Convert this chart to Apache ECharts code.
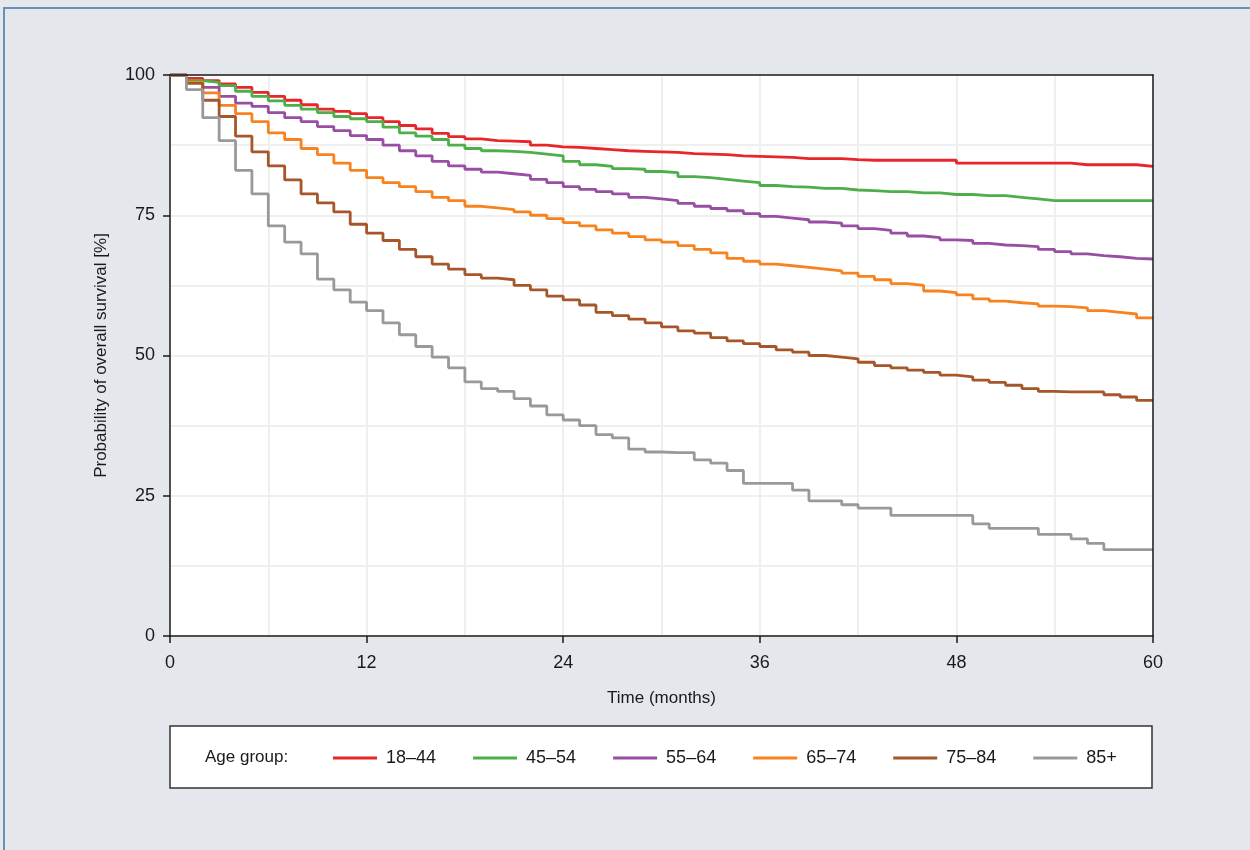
<!DOCTYPE html>
<html>
<head>
<meta charset="utf-8">
<title>Overall survival by age group</title>
<script src="https://cdn.jsdelivr.net/npm/echarts@6.0.0/dist/echarts.min.js"></script>
<style>
    html, body { margin: 0; padding: 0; background: #e4e7ec; }
    #main { width: 1250px; height: 850px; }
</style>
</head>
<body>
<div id="main"></div>
<script>
// 时间轴（月）
var months = [0, 1, 2, 3, 4, 5, 6, 7, 8, 9, 10, 11, 12, 13, 14, 15, 16, 17, 18, 19, 20,
    21, 22, 23, 24, 25, 26, 27, 28, 29, 30, 31, 32, 33, 34, 35, 36, 37, 38, 39, 40,
    41, 42, 43, 44, 45, 46, 47, 48, 49, 50, 51, 52, 53, 54, 55, 56, 57, 58, 59, 60];

var xTicks = [0, 12, 24, 36, 48, 60];
var yTicks = [0, 25, 50, 75, 100];

var groupNames = ['18\u201344', '45\u201354', '55\u201364', '65\u201374', '75\u201384', '85+'];
var groupColors = ['#e8262a', '#4daf4a', '#984ea3', '#f7821e', '#a65628', '#999999'];

// 各年龄组生存率 (%)
var age18 = [100, 99.4, 99.0, 98.4, 97.8, 96.9, 96.2, 95.5, 94.7, 93.9, 93.5, 93.1, 92.4, 91.7, 91.0, 90.4, 89.6, 89.0, 88.6, 88.3, 88.2,
    88.1, 87.5, 87.2, 87.1, 86.9, 86.7, 86.5, 86.4, 86.3, 86.2, 86.0, 85.9, 85.8, 85.6, 85.5, 85.4, 85.3, 85.1, 85.1, 85.1,
    84.9, 84.8, 84.8, 84.8, 84.8, 84.8, 84.8, 84.3, 84.3, 84.3, 84.3, 84.3, 84.3, 84.3, 84.0, 84.0, 84.0, 84.0, 83.7, 83.7];
var age45 = [100, 99.0, 98.7, 98.1, 97.1, 96.2, 95.4, 94.6, 93.9, 93.3, 92.6, 92.2, 91.7, 90.7, 89.7, 89.1, 88.5, 87.5, 86.9, 86.5, 86.4,
    86.2, 85.9, 85.6, 84.6, 84.0, 83.7, 83.3, 83.2, 82.8, 82.6, 81.9, 81.7, 81.4, 81.1, 80.8, 80.3, 80.1, 80.0, 79.8, 79.8,
    79.5, 79.4, 79.2, 79.2, 79.0, 79.0, 78.7, 78.7, 78.5, 78.5, 78.2, 77.9, 77.6, 77.6, 77.6, 77.6, 77.6, 77.6, 77.6, 77.6];
var age55 = [100, 98.7, 97.8, 96.2, 95.0, 94.4, 93.3, 92.4, 91.7, 90.8, 90.1, 89.2, 88.5, 87.5, 86.5, 85.6, 84.6, 83.8, 83.2, 82.7, 82.4,
    82.1, 81.4, 80.8, 80.1, 79.6, 79.2, 78.8, 78.2, 77.9, 77.6, 77.1, 76.6, 76.2, 75.8, 75.3, 74.8, 74.5, 74.2, 73.8, 73.6,
    73.1, 72.6, 72.3, 71.8, 71.3, 71.0, 70.6, 70.5, 70.0, 69.7, 69.6, 69.4, 68.9, 68.5, 68.1, 67.8, 67.6, 67.3, 67.2, 67.2];
var age65 = [100, 98.7, 96.8, 94.6, 93.1, 91.7, 89.7, 88.5, 86.9, 85.8, 84.3, 83.0, 81.7, 80.8, 80.1, 79.2, 78.2, 77.6, 76.6, 76.3, 76.0,
    75.6, 75.0, 74.4, 73.7, 73.1, 72.4, 71.8, 71.2, 70.6, 70.2, 69.6, 68.9, 68.3, 67.3, 66.8, 66.3, 66.0, 65.7, 65.4, 65.1,
    64.7, 64.1, 63.5, 62.8, 62.5, 61.5, 61.2, 60.8, 60.1, 59.7, 59.4, 59.2, 58.8, 58.7, 58.5, 58.0, 57.7, 57.4, 56.7, 56.7];
var age75 = [100, 98.5, 95.5, 92.6, 89.1, 86.3, 83.8, 81.3, 78.8, 77.2, 75.6, 73.4, 71.8, 70.5, 68.9, 67.6, 66.3, 65.4, 64.4, 63.8, 63.5,
    62.5, 61.7, 60.6, 59.9, 59.0, 57.7, 57.1, 56.5, 55.8, 55.1, 54.4, 54.0, 53.2, 52.6, 52.1, 51.6, 51.0, 50.6, 50.0, 49.7,
    49.4, 48.8, 48.2, 47.8, 47.4, 47.0, 46.5, 46.2, 45.6, 45.2, 44.7, 44.1, 43.6, 43.5, 43.5, 43.5, 43.0, 42.6, 42.0, 42.0];
var age85 = [100, 97.4, 92.4, 88.3, 83.0, 78.8, 73.1, 70.2, 68.1, 63.6, 61.7, 59.5, 58.0, 55.8, 53.7, 51.6, 49.7, 47.8, 45.3, 44.1, 43.6,
    42.3, 41.0, 39.4, 38.5, 37.5, 35.9, 35.3, 33.3, 32.8, 32.7, 32.7, 31.4, 30.8, 29.5, 27.2, 27.2, 27.2, 26.0, 24.1, 24.1,
    23.4, 22.8, 22.8, 21.5, 21.5, 21.5, 21.5, 21.5, 20.0, 19.2, 19.2, 19.2, 18.1, 18.1, 17.3, 16.5, 15.4, 15.4, 15.4, 15.4];

var groupValues = [age18, age45, age55, age65, age75, age85];

var fontFamily = 'Liberation Sans, Arial, sans-serif';
var textColor = '#1a1a1a';
var axisColor = '#1a1a1a';
var gridLine = { show: true, lineStyle: { color: '#efefef', width: 2 } };

/*1.准备容器*/
var chart = echarts.init(document.getElementById('main'));

/*2.系列*/
var series = groupNames.map(function (name, i) {
    return {
        name: name,
        type: 'line',
        step: 'end',
        symbol: 'none',
        color: groupColors[i],
        lineStyle: { width: 2.8, color: groupColors[i] },
        data: months.map(function (m, j) { return [m, groupValues[i][j]]; })
    };
});

// 上、右边框：只画轴线，放在曲线之上
var frameAxis = {
    type: 'value',
    min: 0,
    z: 5,
    axisLine: { show: true, onZero: false, lineStyle: { color: axisColor, width: 1.5 } },
    axisTick: { show: false },
    axisLabel: { show: false },
    splitLine: { show: false }
};

/*3.配置*/
var option = {
    backgroundColor: '#e4e7ec',
    animation: false,
    textStyle: { fontFamily: fontFamily, color: textColor },
    grid: {
        left: 170, top: 75, right: 97, bottom: 214,
        show: true,
        backgroundColor: '#ffffff',
        borderWidth: 0
    },
    graphic: [
        {
            type: 'rect',
            shape: { x: 4, y: 8, width: 1300, height: 900 },
            style: { fill: 'none', stroke: '#6b8fba', lineWidth: 2 },
            silent: true
        },
        {
            type: 'rect',
            shape: { x: 170, y: 726, width: 982, height: 62 },
            style: { fill: '#ffffff', stroke: '#333333', lineWidth: 1.5 },
            silent: true
        },
        {
            type: 'text',
            x: 205, y: 757,
            style: {
                text: 'Age group:',
                fill: textColor,
                font: '17px ' + fontFamily,
                verticalAlign: 'middle'
            },
            silent: true
        }
    ],
    legend: {
        left: 333,
        top: 749,
        padding: 0,
        icon: 'rect',
        itemWidth: 44,
        itemHeight: 3,
        itemGap: 37,
        data: groupNames,
        textStyle: { fontSize: 18, color: textColor, fontFamily: fontFamily, padding: [0, 0, 0, 4] }
    },
    xAxis: [{
        type: 'value',
        min: 0,
        max: 60,
        interval: 12,
        name: 'Time (months)',
        nameLocation: 'middle',
        nameGap: 54,
        nameTextStyle: { fontSize: 17, color: textColor },
        axisLine: { show: true, onZero: false, lineStyle: { color: axisColor, width: 1.5 } },
        axisTick: { show: true, length: 7, lineStyle: { color: axisColor, width: 1.5 } },
        axisLabel: {
            margin: 18, fontSize: 18, color: textColor,
            formatter: function (v) { return xTicks.indexOf(v) >= 0 ? String(v) : ''; }
        },
        splitLine: gridLine,
        minorTick: { show: false, splitNumber: 2 },
        minorSplitLine: gridLine
    }, Object.assign({ position: 'top', max: 60 }, frameAxis)],
    yAxis: [{
        type: 'value',
        min: 0,
        max: 100,
        interval: 25,
        name: 'Probability of overall survival [%]',
        nameLocation: 'middle',
        nameGap: 60,
        nameTextStyle: { fontSize: 17, color: textColor },
        axisLine: { show: true, lineStyle: { color: axisColor, width: 1.5 } },
        axisTick: { show: true, length: 7, lineStyle: { color: axisColor, width: 1.5 } },
        axisLabel: {
            margin: 15, fontSize: 18, color: textColor,
            formatter: function (v) { return yTicks.indexOf(v) >= 0 ? String(v) : ''; }
        },
        splitLine: gridLine,
        minorTick: { show: false, splitNumber: 2 },
        minorSplitLine: gridLine
    }, Object.assign({ position: 'right', max: 100 }, frameAxis)],
    series: series
};

/*4.显示图表*/
chart.setOption(option);
</script>
</body>
</html>
